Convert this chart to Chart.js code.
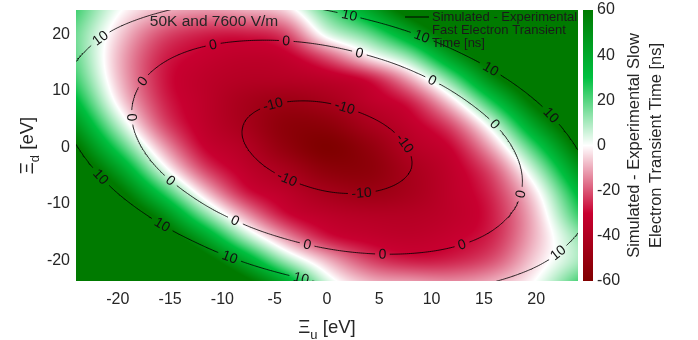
<!DOCTYPE html>
<html><head><meta charset="utf-8">
<script src="https://cdn.jsdelivr.net/npm/chart.js@4.4.1/dist/chart.umd.min.js"></script>
<style>html,body{margin:0;padding:0;background:#fff;}</style>
</head><body>
<canvas id="c" width="698" height="340"></canvas>
<script>
// ---------------- data ----------------
const uVals = [-24,-20,-16,-12,-8,-4,0,4,8,12,16,20,24];        // Xi_u [eV], columns
const dVals = [24,20,16,12,8,4,0,-4,-8,-12,-16,-20,-24];        // Xi_d [eV], rows (top to bottom)

// Simulated - Experimental Slow Electron Transient Time [ns] (colour field; >=60 shown saturated)
const slowDiff = [
  [ 22,   1,  -9, -13, -11,  -6,  18,  40,  68,  92, 110, 110, 110],
  [ 17,  -5, -20, -26, -27, -22,   3,  18,  41,  70,  95, 110, 110],
  [ 18,  -8, -25, -31, -34, -32, -20,  -3,  14,  45,  76, 110, 110],
  [ 23,  -7, -26, -34, -38, -38, -35, -28, -10,  18,  54,  84, 110],
  [ 33,  -2, -24, -34, -43, -48, -44, -35, -26,  -4,  29,  65,  94],
  [ 47,   9, -19, -33, -43, -54, -54, -43, -33, -20,   7,  45,  78],
  [ 63,  25,  -8, -29, -38, -52, -60, -52, -38, -29,  -8,  25,  63],
  [ 78,  45,   7, -20, -33, -43, -54, -54, -43, -33, -19,   9,  47],
  [ 94,  65,  29,  -4, -26, -35, -44, -48, -43, -34, -24,  -2,  33],
  [110,  84,  54,  18, -10, -28, -35, -38, -38, -34, -26,  -7,  23],
  [110, 110,  76,  45,  12, -12, -27, -32, -34, -31, -25,  -8,  12],
  [110, 110,  95,  70,  41,  11,  -9, -22, -27, -26, -20,  -5,  10],
  [110, 110, 110,  92,  68,  41,   6,  -8, -11, -13,  -9,   1,  22]
];

// Simulated - Experimental Fast Electron Transient Time [ns] (contour field)
const fastDiff = [
  [17.9, 13.4, 10.2,  8.1,  7.4,  7.9,  9.6, 12.7, 16.9, 22.4, 29.2, 37.2, 46.5],
  [13.6,  8.7,  5.0,  2.6,  1.5,  1.6,  2.9,  5.5,  9.4, 14.5, 20.9, 28.5, 37.4],
  [10.5,  5.2,  1.1, -1.7, -3.2, -3.5, -2.5, -0.3,  3.1,  7.9, 13.8, 21.1, 29.6],
  [ 8.6,  2.9, -1.5, -4.7, -6.7, -7.4, -6.8, -5.0, -1.9,  2.4,  8.0, 14.8, 22.9],
  [ 8.0,  1.9, -3.0, -6.6, -8.9,-10.0, -9.9, -8.4, -5.8, -1.8,  3.4,  9.8, 17.5],
  [ 8.5,  2.0, -3.2, -7.2,-10.0,-11.5,-11.7,-10.7, -8.4, -4.9, -0.1,  6.0, 13.3],
  [10.3,  3.4, -2.3, -6.7, -9.8,-11.7,-12.3,-11.7, -9.8, -6.7, -2.3,  3.4, 10.3],
  [13.3,  6.0, -0.1, -4.9, -8.4,-10.7,-11.7,-11.5,-10.0, -7.2, -3.2,  2.0,  8.5],
  [17.5,  9.8,  3.4, -1.8, -5.8, -8.4, -9.9,-10.0, -8.9, -6.6, -3.0,  1.9,  8.0],
  [22.9, 14.8,  8.0,  2.4, -1.9, -5.0, -6.8, -7.4, -6.7, -4.7, -1.5,  2.9,  8.6],
  [29.6, 21.1, 13.8,  7.9,  3.1, -0.3, -2.5, -3.5, -3.2, -1.7,  1.1,  5.2, 10.5],
  [37.4, 28.5, 20.9, 14.5,  9.4,  5.5,  2.9,  1.6,  1.5,  2.6,  5.0,  8.7, 13.6],
  [46.5, 37.2, 29.2, 22.4, 16.9, 12.7,  9.6,  7.9,  7.4,  8.1, 10.2, 13.4, 17.9]
];

const contourLevels = [-10, 0, 10];
// approximate places of the inline contour labels: [level, u, d]
const contourLabels = [
  [10,-21.7,19.4],[10,-21.5,-4.9],[10,-15.6,-13.2],[10,-9.1,-18.7],[10,-2.3,-22.5],
  [10,2.1,22.9],[10,8.9,18.8],[10,15.5,13.2],[10,21.1,5.1],[10,21.9,-18.1],
  [0,-10.9,17.4],[0,-3.9,18.5],[0,-17.1,10.9],[0,-18.5,5.3],[0,-14.8,-5.5],[0,-8.7,-12.5],
  [0,-1.7,-16.4],[0,3.1,16.2],[0,10,11.4],[0,15.9,3.9],[0,17.9,-8],[0,12.6,-16],[0,5.3,-18.1],
  [-10,-5,6.5],[-10,1.6,6.9],[-10,7.4,0.7],[-10,3.3,-7],[-10,-3.9,-5.8]
];

const xTicks = [-20,-15,-10,-5,0,5,10,15,20];
const yTicks = [-20,-10,0,10,20];
const cbTicks = [-60,-40,-20,0,20,40,60];
const cbStops = [-60,-30,0,30,60];
const cbColors = [[128,0,0],[200,0,48],[255,255,255],[0,192,64],[0,122,0]];

const fastLabel = 'Simulated - Experimental Fast Electron Transient Time [ns]';
const legendLines = ['Simulated - Experimental','Fast Electron Transient','Time [ns]'];
const cbTitle = ['Simulated - Experimental Slow','Electron Transient Time [ns]'];
const annotationText = '50K and 7600 V/m';

// ---------------- helpers ----------------
const FAM = '"Liberation Sans", Arial, Helvetica, sans-serif';
const TXT = '#262626';
Chart.defaults.font.family = FAM;

function gridVal(G, r, c) {
  const n = G.length, m = G[0].length;
  if (r < 0) return 2*gridVal(G,0,c) - gridVal(G,1,c);
  if (r >= n) return 2*gridVal(G,n-1,c) - gridVal(G,n-2,c);
  if (c < 0) return 2*G[r][0] - G[r][1];
  if (c >= m) return 2*G[r][m-1] - G[r][m-2];
  return G[r][c];
}
function cr(p0,p1,p2,p3,t){ return p1 + 0.5*t*((p2-p0) + t*((2*p0-5*p1+4*p2-p3) + t*(3*(p1-p2)+p3-p0))); }
function sample(G, u, d){
  const m = uVals.length, n = dVals.length;
  const gx = (u - uVals[0])/(uVals[1]-uVals[0]);
  const gy = (d - dVals[0])/(dVals[1]-dVals[0]);
  let i = Math.max(0, Math.min(m-2, Math.floor(gx))); const tx = gx - i;
  let j = Math.max(0, Math.min(n-2, Math.floor(gy))); const ty = gy - j;
  const col = [];
  for (let k=-1;k<=2;k++){ const r=j+k; col.push(cr(gridVal(G,r,i-1),gridVal(G,r,i),gridVal(G,r,i+1),gridVal(G,r,i+2),tx)); }
  return cr(col[0],col[1],col[2],col[3],ty);
}
function cmap(v){
  const s = cbStops, c = cbColors;
  if (v <= s[0]) return c[0];
  if (v >= s[s.length-1]) return c[c.length-1];
  for (let k=0;k<s.length-1;k++){
    if (v <= s[k+1]) { const t=(v-s[k])/(s[k+1]-s[k]); return [0,1,2].map(q=>c[k][q]+(c[k+1][q]-c[k][q])*t); }
  }
  return c[c.length-1];
}

function buildContours(){
  const step = 0.2, us = [], ds = [];
  for (let k=0;k<=240;k++) us.push(-24 + k*step);
  for (let k=0;k<=244;k++) ds.push(-24.4 + k*step);
  const F = ds.map(d => us.map(u => sample(fastDiff,u,d)));
  const segs = {}; contourLevels.forEach(L=>segs[L]=[]);
  for (let j=0;j<ds.length-1;j++) for (let i=0;i<us.length-1;i++){
    const a=F[j][i], b=F[j][i+1], c=F[j+1][i+1], e=F[j+1][i];
    for (const L of contourLevels){
      const pts=[];
      const edge=(v1,v2,u1,d1,u2,d2)=>{ if((v1<L)!==(v2<L)){ const t=(L-v1)/(v2-v1); pts.push([u1+t*(u2-u1), d1+t*(d2-d1)]); } };
      edge(a,b, us[i],ds[j], us[i+1],ds[j]);
      edge(b,c, us[i+1],ds[j], us[i+1],ds[j+1]);
      edge(c,e, us[i+1],ds[j+1], us[i],ds[j+1]);
      edge(e,a, us[i],ds[j+1], us[i],ds[j]);
      if (pts.length>=2) segs[L].push([pts[0],pts[1]]);
      if (pts.length===4) segs[L].push([pts[2],pts[3]]);
    }
  }
  return segs;
}
const segs = buildContours();
let placedLabels = [];
const LABEL_FONT = '14px ' + FAM;

// ---------------- plugins ----------------
const heatmapPlugin = {
  id: 'heatmap',
  beforeDatasetsDraw(chart){
    const {ctx, chartArea:a, scales:{x, y, y2}} = chart;
    const w = Math.round(a.right - a.left), h = Math.round(a.bottom - a.top);
    if (!chart.$heat || chart.$heat.width !== w || chart.$heat.height !== h){
      const off = document.createElement('canvas'); off.width = w; off.height = h;
      const oc = off.getContext('2d'); const img = oc.createImageData(w,h);
      for (let py=0; py<h; py++){
        const d = y.getValueForPixel(a.top + py + 0.5);
        for (let px=0; px<w; px++){
          const u = x.getValueForPixel(a.left + px + 0.5);
          const col = cmap(sample(slowDiff,u,d));
          const o = (py*w+px)*4;
          img.data[o]=col[0]; img.data[o+1]=col[1]; img.data[o+2]=col[2]; img.data[o+3]=255;
        }
      }
      oc.putImageData(img,0,0); chart.$heat = off;
    }
    ctx.drawImage(chart.$heat, a.left, a.top);
    const bx = a.right + 5, bw = 10;
    const top = Math.round(y2.top), bot = Math.round(y2.bottom);
    for (let py=top; py<bot; py++){
      const col = cmap(y2.getValueForPixel(py+0.5));
      ctx.fillStyle = 'rgb('+col.map(Math.round).join(',')+')';
      ctx.fillRect(bx, py, bw, 1);
    }
  }
};

function drawSubLabel(ctx, cx, cy, rot, main, sub, rest, size){
  ctx.save(); ctx.translate(cx,cy); ctx.rotate(rot);
  const f1 = size+'px '+FAM, f2 = Math.round(size*0.72)+'px '+FAM;
  ctx.font=f1; const w1=ctx.measureText(main).width, w3=ctx.measureText(rest).width;
  ctx.font=f2; const w2=ctx.measureText(sub).width;
  const x0 = -(w1+w2+w3)/2;
  ctx.textBaseline='alphabetic'; ctx.textAlign='left'; ctx.fillStyle=TXT;
  ctx.font=f1; ctx.fillText(main,x0,0);
  ctx.font=f2; ctx.fillText(sub,x0+w1,size*0.3);
  ctx.font=f1; ctx.fillText(rest,x0+w1+w2,0);
  ctx.restore();
}

const overlayPlugin = {
  id: 'overlay',
  afterDraw(chart){
    const {ctx, chartArea:a} = chart;
    ctx.save();
    ctx.beginPath(); ctx.rect(a.left,a.top,a.right-a.left,a.bottom-a.top); ctx.clip();
    ctx.font = LABEL_FONT; ctx.fillStyle = '#111'; ctx.textAlign='center'; ctx.textBaseline='middle';
    placedLabels.forEach(p=>{ ctx.save(); ctx.translate(p.cx,p.cy); ctx.rotate(p.ang); ctx.fillText(p.text,0,0.5); ctx.restore(); });
    ctx.restore();
    const ds = chart.data.datasets[0];
    const lx = a.right - 173, ly = a.top + 7;
    ctx.save();
    ctx.strokeStyle = ds.borderColor; ctx.lineWidth = 1;
    ctx.beginPath(); ctx.moveTo(lx, ly); ctx.lineTo(lx+24, ly); ctx.stroke();
    ctx.font = '13px '+FAM; ctx.fillStyle = '#1a1a1a'; ctx.textAlign='left'; ctx.textBaseline='middle';
    legendLines.forEach((t,k)=>ctx.fillText(t, lx+27, ly + k*13));
    ctx.font = '15.5px '+FAM; ctx.fillStyle = TXT; ctx.textAlign='center';
    ctx.fillText(annotationText, a.left + 138, a.top + 12);
    ctx.restore();
    drawSubLabel(ctx, (a.left+a.right)/2, 333, 0, '\u039E', 'u', ' [eV]', 18.5);
    drawSubLabel(ctx, 33, (a.top+a.bottom)/2, -Math.PI/2, '\u039E', 'd', ' [eV]', 18.5);
    ctx.save();
    ctx.translate(639, (a.top+a.bottom)/2); ctx.rotate(-Math.PI/2);
    ctx.font = '16.5px '+FAM; ctx.fillStyle = TXT; ctx.textAlign='center'; ctx.textBaseline='alphabetic';
    ctx.fillText(cbTitle[0], 0, 0);
    ctx.fillText(cbTitle[1], 0, 22);
    ctx.restore();
  }
};

const tickFont = { size: 16, family: FAM };
function fixBox(size, key){
  return s => { s[key] = size; s.paddingTop = 0; s.paddingBottom = 0; s.paddingLeft = 0; s.paddingRight = 0; };
}
const chart = new Chart(document.getElementById('c'), {
  type: 'scatter',
  data: { datasets: [{ label: fastLabel, data: [], showLine: true, borderColor: '#000', borderWidth: 0.8,
                       pointRadius: 0, pointHoverRadius: 0, spanGaps: false, tension: 0 }] },
  options: {
    responsive: false, animation: false, devicePixelRatio: 1, events: [],
    layout: { autoPadding: false, padding: { left: 0, right: 0, top: 10, bottom: 0 } },
    plugins: { legend: { display: false }, tooltip: { enabled: false } },
    scales: {
      x: { type: 'linear', position: 'bottom', min: -24, max: 24,
           grid: { display: false, drawTicks: false }, border: { display: false },
           afterBuildTicks: s => { s.ticks = xTicks.map(v => ({ value: v })); },
           afterFit: fixBox(59, 'height'),
           ticks: { font: tickFont, color: TXT, padding: 9, maxRotation: 0, autoSkip: false } },
      y: { type: 'linear', position: 'left', min: -23.7, max: 24.3,
           grid: { display: false, drawTicks: false }, border: { display: false },
           afterBuildTicks: s => { s.ticks = yTicks.map(v => ({ value: v })); },
           afterFit: fixBox(76, 'width'),
           ticks: { font: tickFont, color: TXT, padding: 6, autoSkip: false } },
      y2: { type: 'linear', position: 'right', min: -60, max: 60,
            grid: { display: false, drawTicks: false }, border: { display: false },
            afterBuildTicks: s => { s.ticks = cbTicks.map(v => ({ value: v })); },
            afterFit: fixBox(120, 'width'),
            ticks: { font: tickFont, color: TXT, padding: 19, autoSkip: false } }
    }
  },
  plugins: [heatmapPlugin, overlayPlugin]
});

(function(){
  const {x, y} = chart.scales; const ctx = chart.ctx;
  ctx.save(); ctx.font = LABEL_FONT;
  const sx = x.getPixelForValue(1) - x.getPixelForValue(0);
  const sy = y.getPixelForValue(1) - y.getPixelForValue(0);
  placedLabels = contourLabels.map(([L,u,d]) => {
    const px = x.getPixelForValue(u), py = y.getPixelForValue(d);
    let best = null, bd = Infinity;
    segs[L].forEach(s => {
      const mu = (s[0][0]+s[1][0])/2, md = (s[0][1]+s[1][1])/2;
      const mx = x.getPixelForValue(mu), my = y.getPixelForValue(md);
      const dd = (mx-px)*(mx-px) + (my-py)*(my-py);
      if (dd < bd) { bd = dd; best = [mx,my,mu,md]; }
    });
    const h = 0.05, cu = best[2], cd = best[3];
    const gu = (sample(fastDiff,cu+h,cd) - sample(fastDiff,cu-h,cd))/(2*h);
    const gd = (sample(fastDiff,cu,cd+h) - sample(fastDiff,cu,cd-h))/(2*h);
    const gpx = gu/sx, gpy = gd/sy;
    let ang = Math.atan2(gpx, -gpy);
    if (ang > Math.PI/2) ang -= Math.PI;
    if (ang < -Math.PI/2) ang += Math.PI;
    const text = String(L);
    const w = ctx.measureText(text).width;
    return { L, cx: best[0], cy: best[1], ang, text, r: w/2 + 4 };
  });
  ctx.restore();
  const data = [];
  contourLevels.forEach(L => segs[L].forEach(s => {
    const mx = x.getPixelForValue((s[0][0]+s[1][0])/2), my = y.getPixelForValue((s[0][1]+s[1][1])/2);
    if (placedLabels.some(p => p.L === L && (p.cx-mx)*(p.cx-mx) + (p.cy-my)*(p.cy-my) < p.r*p.r)) return;
    data.push({x: s[0][0], y: s[0][1]}, {x: s[1][0], y: s[1][1]}, {x: NaN, y: NaN});
  }));
  chart.data.datasets[0].data = data;
  chart.update();
})();
</script>
</body></html>
